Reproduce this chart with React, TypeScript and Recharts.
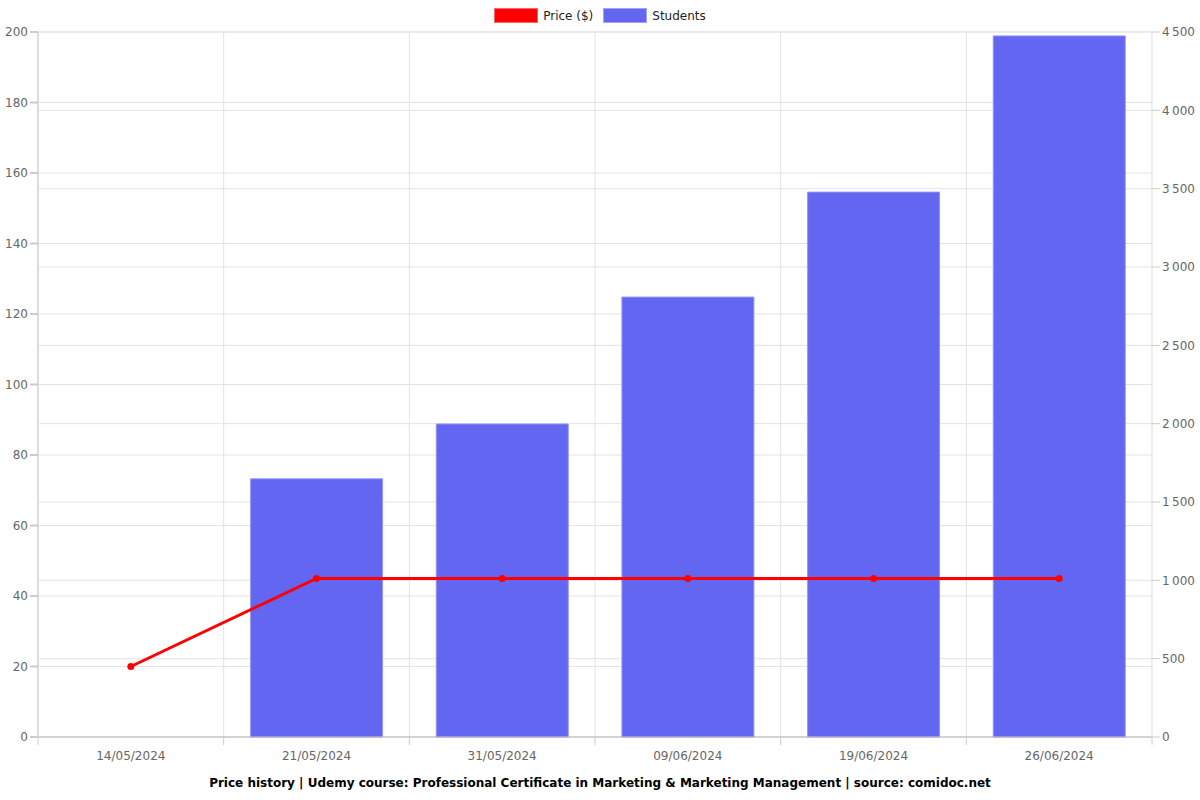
import { ComposedChart, Bar, Line, XAxis, YAxis, CartesianGrid } from "recharts";

const dates = ["14/05/2024", "21/05/2024", "31/05/2024", "09/06/2024", "19/06/2024", "26/06/2024"];
const price = [20, 45, 45, 45, 45, 45];
const students = [null, 1648, 1998, 2808, 3478, 4475];
const priceTicks = [0, 20, 40, 60, 80, 100, 120, 140, 160, 180, 200];
const studentTicks = [0, 500, 1000, 1500, 2000, 2500, 3000, 3500, 4000, 4500];

const RED = "#ff0000";
const BLUE = "#6366f1";
const TITLE =
  "Price history | Udemy course: Professional Certificate in Marketing & Marketing Management | source: comidoc.net";

const W = 1200;
const H = 800;
const M = { top: 32, right: 48, left: 38, bottom: 33 };
const STEP = (W - M.left - M.right) / dates.length;

const data = dates.map((d, i) => ({ date: d, price: price[i], students: students[i] }));

const tickStyle = { fontSize: 12, fill: "#666", fontFamily: "DejaVu Sans" };

function fmtSpace(v: number) {
  return String(v).replace(/\B(?=(\d{3})+(?!\d))/g, "\u2009");
}

function DateTick(props: any) {
  const { x, y, payload, index } = props;
  const left = x - STEP / 2;
  return (
    <g>
      <line x1={left} x2={left} y1={y - 8} y2={y} stroke="#ccc" />
      {index === dates.length - 1 && (
        <line x1={x + STEP / 2} x2={x + STEP / 2} y1={y - 8} y2={y} stroke="#ccc" />
      )}
      <text x={x} y={y + 15} textAnchor="middle" {...tickStyle}>
        {payload.value}
      </text>
    </g>
  );
}

function LegendItem({ color, label }: { color: string; label: string }) {
  return (
    <span style={{ display: "inline-flex", alignItems: "center", marginRight: 10 }}>
      <span
        style={{
          display: "inline-block",
          width: 42,
          height: 13,
          background: color,
          border: "1px solid rgba(255,255,255,0.4)",
          marginRight: 5,
        }}
      />
      {label}
    </span>
  );
}

export default function App() {
  return (
    <div style={{ position: "absolute", left: 0, top: 0, width: W, height: H, background: "#fff" }}>
      <div
        style={{
          position: "absolute",
          top: 8,
          left: 5,
          width: W,
          textAlign: "center",
          fontFamily: "DejaVu Sans",
          fontSize: 12,
          color: "#222",
        }}
      >
        <LegendItem color={RED} label="Price ($)" />
        <LegendItem color={BLUE} label="Students" />
      </div>
      <ComposedChart width={W} height={H} data={data} margin={{ top: M.top, right: 0, left: 0, bottom: M.bottom }} barCategoryGap="14.5%">
        <CartesianGrid
          yAxisId="left"
          stroke="#e3e3e3"
          horizontal
          vertical
          verticalCoordinatesGenerator={({ offset }: any) =>
            dates.slice(1).map((_, i) => offset.left + STEP * (i + 1))
          }
        />
        <CartesianGrid yAxisId="right" stroke="#e3e3e3" vertical={false} />
        <XAxis
          dataKey="date"
          height={30}
          stroke="#bbb"
          tickLine={false}
          tick={<DateTick />}
          interval={0}
        />
        <YAxis
          yAxisId="left"
          domain={[0, 200]}
          ticks={priceTicks}
          width={M.left}
          stroke="#ddd"
          strokeWidth={2}
          tickLine={{ stroke: "#ccc" }}
          tick={tickStyle}
          tickSize={8}
          tickMargin={2}
        />
        <YAxis
          yAxisId="right"
          orientation="right"
          domain={[0, 4500]}
          ticks={studentTicks}
          width={M.right}
          stroke="#ddd"
          tickLine={{ stroke: "#ccc" }}
          tick={tickStyle}
          tickSize={8}
          tickMargin={2}
          tickFormatter={fmtSpace}
        />
        <Bar
          yAxisId="right"
          dataKey="students"
          fill={BLUE}
          stroke="#9496f6"
          strokeWidth={1}
          isAnimationActive={false}
        />
        <Line
          yAxisId="left"
          dataKey="price"
          stroke={RED}
          strokeWidth={3}
          dot={{ r: 3.5, fill: RED, stroke: RED, strokeWidth: 0 }}
          activeDot={false}
          isAnimationActive={false}
        />
      </ComposedChart>
      <div
        style={{
          position: "absolute",
          top: 776,
          left: 0,
          width: W,
          textAlign: "center",
          fontFamily: "DejaVu Sans",
          fontWeight: "bold",
          fontSize: 12,
          color: "#000",
        }}
      >
        {TITLE}
      </div>
    </div>
  );
}
